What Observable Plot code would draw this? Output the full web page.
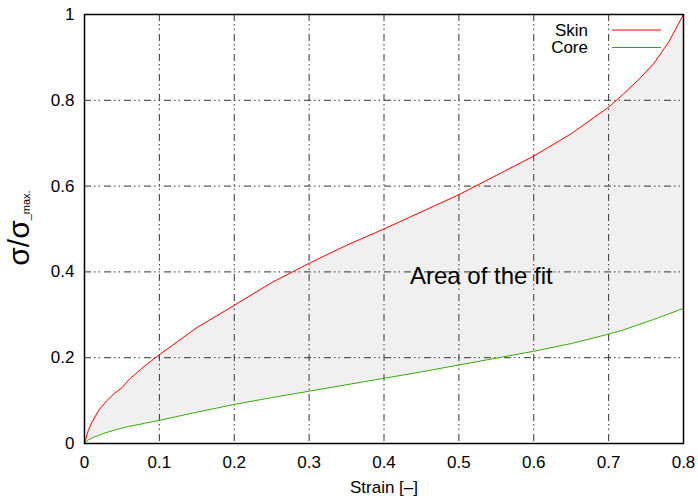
<!DOCTYPE html>
<html><head><meta charset="utf-8">
<script src="https://cdn.jsdelivr.net/npm/d3@7"></script>
<script src="https://cdn.jsdelivr.net/npm/@observablehq/plot@0.6"></script>
<style>body{margin:0;background:#fff;font-family:"Liberation Sans",Arial,sans-serif;}</style>
</head><body><div id="chart"></div>
<script>
const strain = [0, 0.005, 0.01, 0.02, 0.03, 0.04, 0.05, 0.06, 0.08, 0.1, 0.15, 0.2, 0.25, 0.3, 0.35, 0.4, 0.45, 0.5, 0.55, 0.6, 0.65, 0.7, 0.72, 0.74, 0.76, 0.78, 0.8];
const skin = [0, 0.03, 0.05, 0.08, 0.1, 0.117, 0.13, 0.15, 0.18, 0.207, 0.27, 0.322, 0.375, 0.42, 0.462, 0.5, 0.54, 0.58, 0.625, 0.67, 0.722, 0.784, 0.815, 0.848, 0.885, 0.935, 1.0];
const core = [0, 0.008, 0.013, 0.02, 0.026, 0.031, 0.036, 0.04, 0.047, 0.054, 0.073, 0.091, 0.107, 0.122, 0.137, 0.152, 0.167, 0.183, 0.199, 0.215, 0.233, 0.255, 0.265, 0.277, 0.289, 0.302, 0.315];
const xTicks = [0, 0.1, 0.2, 0.3, 0.4, 0.5, 0.6, 0.7, 0.8];
const yTicks = [0, 0.2, 0.4, 0.6, 0.8, 1];
const xGrid = [0.1, 0.2, 0.3, 0.4, 0.5, 0.6, 0.7];
const yGrid = [0.2, 0.4, 0.6, 0.8];
const seriesNames = ["Skin", "Core"];
const seriesColors = ["#ff0000", "#33aa00"];
const annotation = "Area of the fit";
const xLabel = "Strain [\u2013]";

const data = strain.map((s, i) => ({strain: s, skin: skin[i], core: core[i]}));
const legend = seriesNames.map((n, i) => ({name: n, color: seriesColors[i], row: i}));
const dash = "7,3,1.5,3,1.5,4";

const plot = Plot.plot({
  width: 698, height: 499,
  marginLeft: 84, marginRight: 15, marginTop: 14, marginBottom: 56,
  style: {fontFamily: '"Liberation Sans", Arial, sans-serif', fontSize: "17px", color: "#000", background: "#fff"},
  x: {domain: [0, 0.8]},
  y: {domain: [0, 1]},
  marks: [
    Plot.areaY(data, {x: "strain", y1: "core", y2: "skin", fill: "#f0f0f0"}),
    Plot.ruleX(xGrid, {stroke: "#333", strokeWidth: 1, strokeDasharray: dash}),
    Plot.ruleY(yGrid, {stroke: "#333", strokeWidth: 1, strokeDasharray: dash}),
    Plot.line(data, {x: "strain", y: "skin", stroke: seriesColors[0], strokeWidth: 1}),
    Plot.line(data, {x: "strain", y: "core", stroke: seriesColors[1], strokeWidth: 1}),
    Plot.frame({stroke: "#000", strokeWidth: 1.5}),
    Plot.axisX(xTicks, {tickSize: 0, tickPadding: 12, fontSize: 17, label: null, tickFormat: d => String(d)}),
    Plot.axisY(yTicks, {tickSize: 0, tickPadding: 10, fontSize: 17, label: null, tickFormat: d => String(d)}),
    Plot.text([annotation], {x: () => 0.53, y: () => 0.39, text: d => d, fontSize: 24, textAnchor: "middle"}),
    Plot.text([xLabel], {x: () => 0.4, y: () => 0, dy: 44, text: d => d, fontSize: 17, textAnchor: "middle"})
  ]
});

const svg = d3.select(plot);
const lg = svg.append("g");
legend.forEach((d, i) => {
  const yy = 30 + i * 17.5;
  lg.append("text").attr("x", 588).attr("y", yy).attr("dy", "0.35em").attr("text-anchor", "end")
    .attr("font-size", 17).attr("fill", "#000").text(d.name);
  lg.append("line").attr("x1", 612).attr("x2", 661).attr("y1", yy).attr("y2", yy)
    .attr("stroke", d.color).attr("stroke-width", 1);
});
const yl = svg.append("text").attr("transform", "translate(29,228) rotate(-90)")
  .attr("text-anchor", "middle").attr("fill", "#000").attr("font-size", 30);
yl.append("tspan").text("\u03c3/\u03c3");
yl.append("tspan").attr("font-size", 11).attr("dy", 1).text("_max.");

document.getElementById("chart").appendChild(plot);
</script></body></html>
